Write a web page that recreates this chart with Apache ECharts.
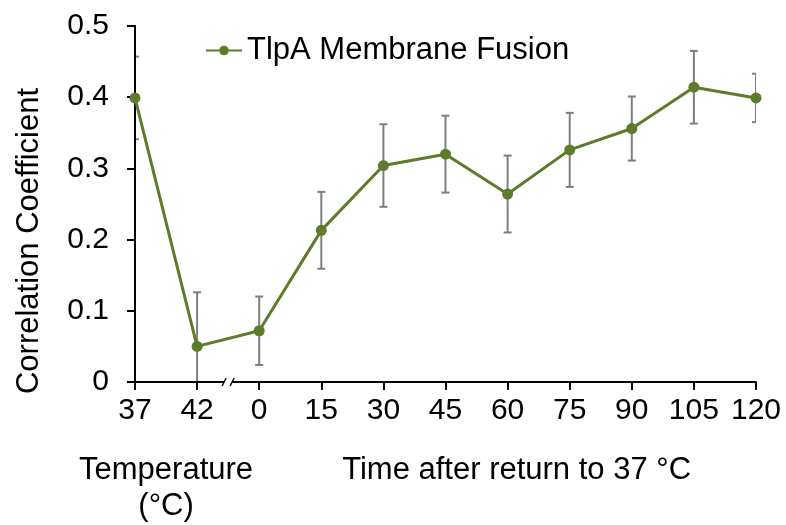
<!DOCTYPE html>
<html>
<head>
<meta charset="utf-8">
<script src="https://cdn.jsdelivr.net/npm/echarts@6/dist/echarts.min.js"></script>
<style>html,body{margin:0;padding:0;background:#fff}#c{width:786px;height:525px}</style>
</head>
<body>
<div id="c"></div>
<script>
const categories = ['37', '42', '0', '15', '30', '45', '60', '75', '90', '105', '120'];
const values = [0.399, 0.050, 0.072, 0.213, 0.304, 0.320, 0.264, 0.326, 0.356, 0.414, 0.399];
const errors = [0.058, 0.076, 0.048, 0.054, 0.058, 0.054, 0.054, 0.052, 0.045, 0.051, 0.034];
const yTicks = [0, 0.1, 0.2, 0.3, 0.4, 0.5];
const seriesName = 'TlpA Membrane Fusion';

const FONT = 'Liberation Sans, Arial, sans-serif';
const FS = 30;
const FN = 31;
const GREEN = '#5E7B2C';

const chart = echarts.init(document.getElementById('c'), null, {renderer: 'canvas'});

const errData = categories.map((c, i) => [i, values[i] - errors[i], values[i] + errors[i]]);

chart.setOption({
  animation: false,
  backgroundColor: '#fff',
  textStyle: {fontFamily: FONT, color: '#000'},
  grid: {left: 135, right: 30, top: 26, bottom: 143, containLabel: false},
  legend: {
    data: [seriesName],
    left: 200, top: 30,
    itemWidth: 36, itemHeight: 12,
    textStyle: {fontSize: FN, color: '#000', fontFamily: FONT}
  },
  xAxis: {
    type: 'category',
    data: categories,
    boundaryGap: false,
    z: 5,
    axisLine: {lineStyle: {color: '#000', width: 2}},
    axisTick: {show: true, length: 8, lineStyle: {color: '#000', width: 2}},
    axisLabel: {fontSize: FS, color: '#000', margin: 14, fontFamily: FONT, interval: 0},
    splitLine: {show: false}
  },
  yAxis: {
    type: 'value',
    min: yTicks[0], max: yTicks[yTicks.length - 1], interval: 0.1,
    z: 5,
    axisLine: {show: true, lineStyle: {color: '#000', width: 2}},
    axisTick: {show: true, length: 8, lineStyle: {color: '#000', width: 2}},
    axisLabel: {fontSize: FS, color: '#000', margin: 26, fontFamily: FONT},
    splitLine: {show: false}
  },
  series: [
    {
      type: 'custom',
      name: 'err',
      clip: true,
      z: 1,
      data: errData,
      renderItem: function (params, api) {
        const x = api.value(0);
        const lo = api.coord([x, api.value(1)]);
        const hi = api.coord([x, api.value(2)]);
        const w = 4;
        const st = {stroke: '#7F7F7F', lineWidth: 2};
        return {
          type: 'group',
          children: [
            {type: 'line', shape: {x1: hi[0], y1: hi[1], x2: lo[0], y2: lo[1]}, style: st},
            {type: 'line', shape: {x1: hi[0] - w, y1: hi[1], x2: hi[0] + w, y2: hi[1]}, style: st},
            {type: 'line', shape: {x1: lo[0] - w, y1: lo[1], x2: lo[0] + w, y2: lo[1]}, style: st}
          ]
        };
      }
    },
    {
      type: 'line',
      name: seriesName,
      data: values,
      z: 6,
      symbol: 'circle',
      symbolSize: 11,
      lineStyle: {color: GREEN, width: 3},
      itemStyle: {color: GREEN}
    }
  ]
});

const p0 = chart.convertToPixel({xAxisIndex: 0}, categories[0]);
const p1 = chart.convertToPixel({xAxisIndex: 0}, categories[1]);
const p2 = chart.convertToPixel({xAxisIndex: 0}, categories[2]);
const pLast = chart.convertToPixel({xAxisIndex: 0}, categories[categories.length - 1]);
const y0 = chart.convertToPixel({yAxisIndex: 0}, yTicks[0]);
const yTop = chart.convertToPixel({yAxisIndex: 0}, yTicks[yTicks.length - 1]);
const bx = (p1 + p2) / 2;

chart.setOption({
  graphic: [
    {type: 'line', shape: {x1: p0, y1: y0 + 1, x2: p0, y2: yTop - 1}, style: {stroke: '#000', lineWidth: 2}, z: 4},
    {type: 'rect', shape: {x: bx - 4, y: y0 - 4, width: 8, height: 8}, style: {fill: '#fff'}, z: 100},
    {type: 'line', shape: {x1: bx - 6, y1: y0 + 4, x2: bx - 2, y2: y0 - 4}, style: {stroke: '#000', lineWidth: 1.4}, z: 101},
    {type: 'line', shape: {x1: bx + 2, y1: y0 + 4, x2: bx + 6, y2: y0 - 4}, style: {stroke: '#000', lineWidth: 1.4}, z: 101},
    {type: 'text', x: (p0 + p1) / 2, y: y0 + 88, style: {text: 'Temperature', font: FN + 'px ' + FONT, fill: '#000', align: 'center', verticalAlign: 'middle'}, z: 100},
    {type: 'text', x: (p0 + p1) / 2, y: y0 + 124, style: {text: '(°C)', font: FN + 'px ' + FONT, fill: '#000', align: 'center', verticalAlign: 'middle'}, z: 100},
    {type: 'text', x: (p2 + pLast) / 2 + 9, y: y0 + 88, style: {text: 'Time after return to 37 °C', font: FN + 'px ' + FONT, fill: '#000', align: 'center', verticalAlign: 'middle'}, z: 100},
    {type: 'text', x: 29, y: 241, rotation: Math.PI / 2, style: {text: 'Correlation Coefficient', font: FN + 'px ' + FONT, fill: '#000', align: 'center', verticalAlign: 'middle'}, z: 100}
  ]
});
</script>
</body>
</html>
